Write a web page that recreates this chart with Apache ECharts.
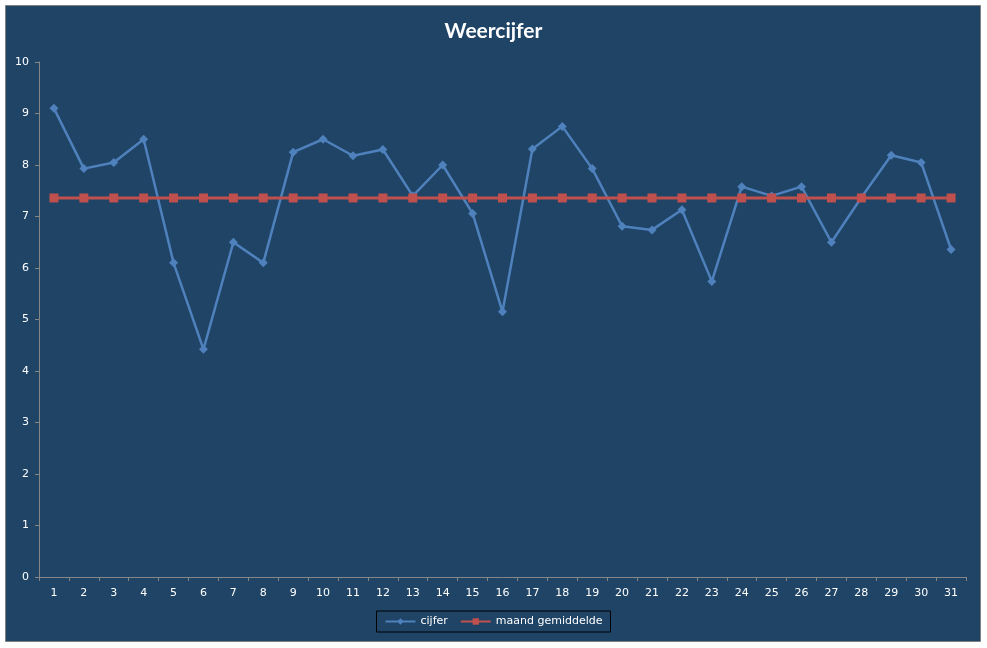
<!DOCTYPE html>
<html>
<head>
<meta charset="utf-8">
<title>Weercijfer</title>
<script src="https://cdn.jsdelivr.net/npm/echarts@6/dist/echarts.min.js"></script>
<style>
    html, body { margin: 0; padding: 0; background: #fff; }
    #chart { width: 987px; height: 648px; }
</style>
</head>
<body>
<div id="chart"></div>
<script>
// dagen van de maand
const days = ["1", "2", "3", "4", "5", "6", "7", "8", "9", "10", "11", "12", "13", "14", "15", "16",
    "17", "18", "19", "20", "21", "22", "23", "24", "25", "26", "27", "28", "29", "30", "31"];

const cijfer = [9.1, 7.93, 8.05, 8.5, 6.1, 4.42, 6.5, 6.1, 8.25, 8.5,
    8.18, 8.3, 7.4, 8.0, 7.06, 5.15, 8.31, 8.75, 7.93, 6.81,
    6.74, 7.13, 5.74, 7.58, 7.4, 7.58, 6.5, 7.37, 8.19, 8.05, 6.36];

// maandgemiddelde, op elke dag gelijk
const gemiddelde = [7.36, 7.36, 7.36, 7.36, 7.36, 7.36, 7.36, 7.36, 7.36, 7.36,
    7.36, 7.36, 7.36, 7.36, 7.36, 7.36, 7.36, 7.36, 7.36, 7.36,
    7.36, 7.36, 7.36, 7.36, 7.36, 7.36, 7.36, 7.36, 7.36, 7.36, 7.36];

const seriesNames = ["cijfer", "maand gemiddelde"];

const labelFont = "DejaVu Sans";
const bg = "#1F4466";

const myChart = echarts.init(document.getElementById("chart"), null, { renderer: "canvas" });

const option = {
    backgroundColor: "#fff",
    animation: false,
    graphic: [
        {
            type: "rect",
            z: -10,
            silent: true,
            shape: { x: 5.5, y: 5.5, width: 975, height: 636 },
            style: { fill: bg, stroke: "#808080", lineWidth: 1 },
        },
    ],
    title: {
        text: "Weercijfer",
        left: "center",
        top: 16,
        textStyle: {
            color: "#fff",
            fontFamily: "Lato",
            fontWeight: "bold",
            fontSize: 21,
        },
    },
    legend: {
        data: seriesNames,
        left: "center",
        top: 611,
        padding: [5, 8, 5, 8],
        borderColor: "#000",
        borderWidth: 1,
        itemWidth: 30,
        itemHeight: 8,
        itemGap: 12,
        textStyle: {
            color: "#fff",
            fontFamily: labelFont,
            fontSize: 11,
        },
    },
    grid: {
        left: 39,
        right: 21,
        top: 62,
        bottom: 71,
        containLabel: false,
    },
    xAxis: {
        type: "category",
        data: days,
        boundaryGap: true,
        axisLine: {
            show: true,
            lineStyle: { color: "#868686", width: 1 },
        },
        axisTick: {
            show: true,
            length: 4,
            alignWithLabel: false,
            lineStyle: { color: "#868686" },
        },
        axisLabel: {
            color: "#fff",
            fontFamily: labelFont,
            fontSize: 11,
            margin: 11,
            interval: 0,
        },
        splitLine: { show: false },
    },
    yAxis: {
        type: "value",
        min: 0,
        max: 10,
        interval: 1,
        axisLine: {
            show: true,
            lineStyle: { color: "#868686", width: 1 },
        },
        axisTick: {
            show: true,
            length: 4,
            lineStyle: { color: "#868686" },
        },
        axisLabel: {
            color: "#fff",
            fontFamily: labelFont,
            fontSize: 11,
            margin: 10,
        },
        splitLine: { show: false },
    },
    series: [
        {
            name: seriesNames[0],
            type: "line",
            data: cijfer,
            symbol: "diamond",
            symbolSize: 9,
            lineStyle: { color: "#4F81BD", width: 2.5 },
            itemStyle: { color: "#4F81BD", borderWidth: 0 },
            z: 3,
        },
        {
            name: seriesNames[1],
            type: "line",
            data: gemiddelde,
            symbol: "rect",
            symbolSize: 9,
            lineStyle: { color: "#C0504D", width: 3 },
            itemStyle: { color: "#C0504D", borderWidth: 0 },
            z: 4,
        },
    ],
};

myChart.setOption(option);
</script>
</body>
</html>
